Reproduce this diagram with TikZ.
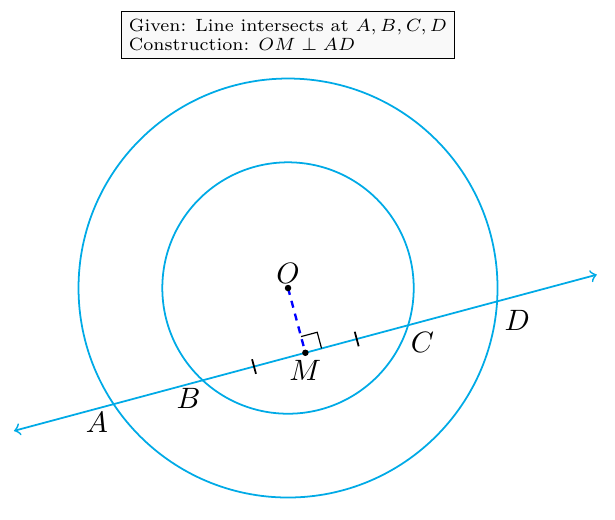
\documentclass[tikz,border=0pt]{standalone}
\usetikzlibrary{calc}
\definecolor{linec}{RGB}{0,170,230}
\begin{document}
\begin{tikzpicture}[
  circ/.style={draw=linec, semithick},
  mainline/.style={draw=linec, semithick, <->},
  tick/.style={draw=black, semithick},
  lab/.style={inner sep=1.5pt},
  dot/.style={circle, fill=black, inner sep=0pt, minimum size=2.2pt}
]
\useasboundingbox (-3.437,-2.768) rectangle (3.902,3.437);
\coordinate (O) at (0,0);
\coordinate (M) at (-75:0.8);
\draw[circ] (O) circle (2.5);
\draw[circ] (O) circle (1.5);
\coordinate (L) at ($(M)+(195:3.6)$);
\coordinate (R) at ($(M)+(15:3.6)$);
\draw[mainline] (L) -- (R);
\coordinate (A) at ($(M)+(195:2.3685)$);
\coordinate (B) at ($(M)+(195:1.2689)$);
\coordinate (C) at ($(M)+(15:1.2689)$);
\coordinate (D) at ($(M)+(15:2.3685)$);
\coordinate (T1) at ($(M)+(195:0.6344)$);
\coordinate (T2) at ($(M)+(15:0.6344)$);
\draw[tick] ($(T1)+(105:0.09)$) -- ($(T1)+(-75:0.09)$);
\draw[tick] ($(T2)+(105:0.09)$) -- ($(T2)+(-75:0.09)$);
\draw[blue, thick, dash pattern=on 2.4pt off 2.1pt] (O) -- (M);
\draw[black, thin] ($(M)+(105:0.2)$) -- ($(M)+(105:0.2)+(15:0.2)$) -- ($(M)+(15:0.2)$);
\node[dot] (Od) at (O) {};
\node[dot] (Md) at (M) {};
\node[lab, above] (Ol) at (O) {$O$};
\node[lab, below, yshift=-1pt] (Ml) at (M) {$M$};
\node (Al) at ($(A)+(-0.2,-0.22)$) {$A$};
\node (Bl) at ($(B)+(-0.17,-0.22)$) {$B$};
\node (Cl) at ($(C)+(0.17,-0.21)$) {$C$};
\node (Dl) at ($(D)+(0.24,-0.23)$) {$D$};
\node[draw=black, fill=gray!5, align=left, font=\fontsize{7}{7.6}\selectfont, inner sep=3pt, scale=0.86, transform shape] (box) at (0,3.02)
  {Given: Line intersects at $A,B,C,D$\\Construction: $OM\perp AD$};
\end{tikzpicture}
\end{document}
